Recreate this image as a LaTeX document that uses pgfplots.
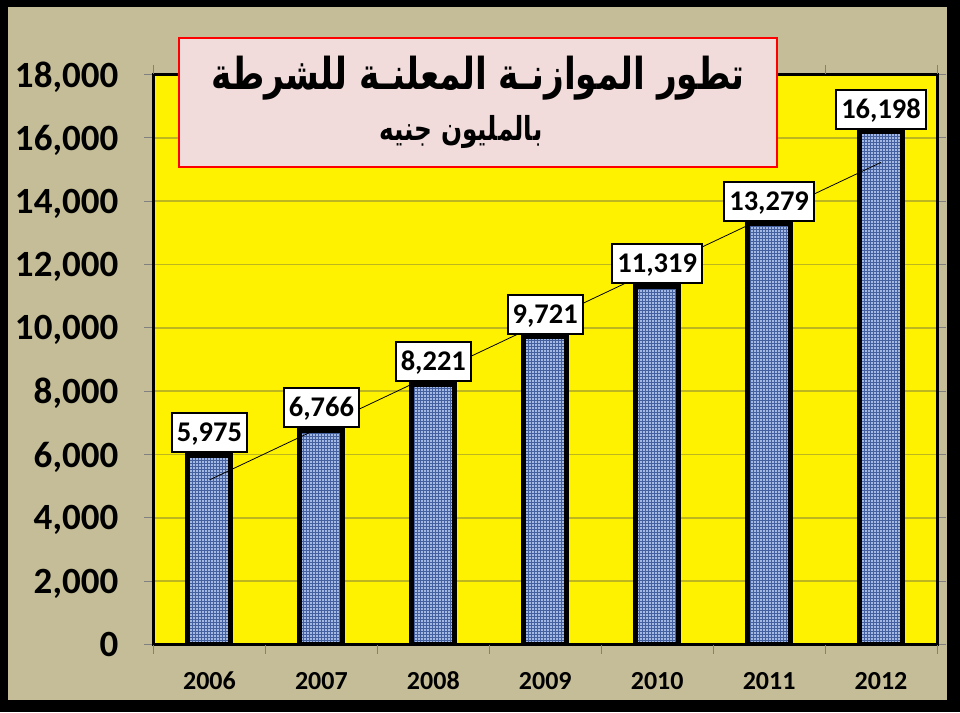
\documentclass[border=0pt]{standalone}
\usepackage{fontspec}
\setmainfont{Carlito}
\newfontfamily\arabicfont[Script=Arabic]{DejaVu Sans}
\TeXXeTstate=1
\usepackage{pgfplots}
\pgfplotsset{compat=1.18}
\usetikzlibrary{patterns}
\definecolor{khaki}{HTML}{C4BD97}
\definecolor{titlepink}{HTML}{F2DCDB}
\definecolor{gridol}{RGB}{190,182,30}
\definecolor{barblue}{HTML}{A3B8E2}
\definecolor{denim}{HTML}{44609F}
\begin{document}
\begin{tikzpicture}
\fill[black] (0pt,0pt) rectangle (960pt,712pt);
\fill[khaki] (8pt,12pt) rectangle (947pt,705pt);
\begin{axis}[
  at={(153.5pt,67.5pt)}, anchor=south west,
  scale only axis, width=783.5pt, height=570pt,
  xmin=-0.5, xmax=6.5, ymin=0, ymax=18000,
  axis background/.style={fill=yellow},
  axis line style={black, line width=3pt},
  ymajorgrids, major grid style={gridol, line width=1.5pt},
  scaled y ticks=false,
  /pgf/number format/1000 sep={,},
  /pgf/number format/assume math mode=true,
  ytick={0,2000,...,18000},
  xtick={0,1,2,3,4,5,6},
  xticklabels={2006,2007,2008,2009,2010,2011,2012},
  tick align=outside, major tick length=9pt,
  tick style={gray, line width=1pt},
  xtick style={draw=none},
  extra x ticks={-0.5,0.5,1.5,2.5,3.5,4.5,5.5,6.5},
  extra x tick labels={},
  extra x tick style={xtick style={draw=gray}},
  yticklabel style={font=\bfseries\fontsize{37}{40}\selectfont, anchor=east, inner sep=0pt, text depth=0pt, xshift=-26pt},
  xticklabel style={font=\bfseries\fontsize{26}{28}\selectfont, anchor=north, inner sep=0pt, text height=16.5pt, text depth=0pt, yshift=-19pt},
]
\addplot[ybar, bar width=43pt, fill=barblue, draw=black, line width=5pt,
  postaction={pattern=grid, pattern color=denim},
  nodes near coords,
  nodes near coords style={font=\bfseries\fontsize{28.5}{30}\selectfont, fill=white, draw=black, line width=1.8pt, text height=18pt, text depth=0pt, inner xsep=5pt, inner ysep=10.5pt, anchor=south, yshift=2pt, text=black},
] coordinates {(0,5975) (1,6766) (2,8221) (3,9721) (4,11319) (5,13279) (6,16198)};
\addplot[sharp plot, black, line width=0.8pt, no marks] coordinates {(0,5197.7) (6,15224.9)};
\end{axis}
\node[draw=red, line width=2.5pt, fill=titlepink, minimum width=598pt, minimum height=129pt, inner sep=0pt] at (478pt,609.5pt) {};
\node at (478pt,634pt) {\scalebox{0.78}[1]{\arabicfont\bfseries\fontsize{44}{48}\selectfont\beginR تطور الموازنـة المعلنـة للشرطة\endR}};
\node at (461pt,580pt) {\scalebox{0.75}[1]{\arabicfont\bfseries\fontsize{33}{36}\selectfont\beginR بالمليون جنيه\endR}};
\end{tikzpicture}
\end{document}
